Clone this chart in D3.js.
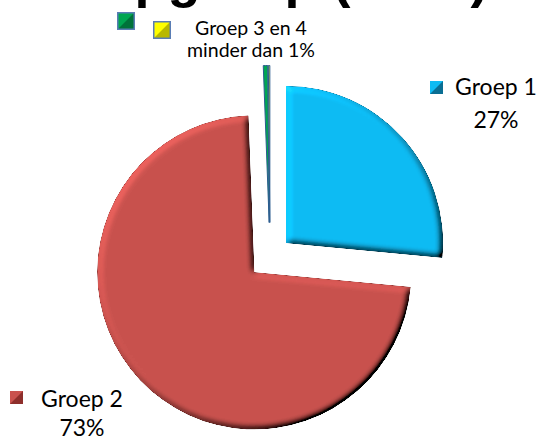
<!DOCTYPE html>
<html>
<head>
<meta charset="utf-8">
<script src="https://cdn.jsdelivr.net/npm/d3@7"></script>
<style>
  body { margin: 0; background: #fff; }
  svg { display: block; }
</style>
</head>
<body>
<svg id="chart" width="543" height="440"></svg>
<script>
// chart data
const groups = ["Groep 1", "Groep 2", "Groep 3", "Groep 4"];
const shares = [26.5, 72.9, 0.45, 0.15];
const pctLabels = ["27%", "73%"];
const smallLabel = ["Groep 3 en 4", "minder dan 1%"];
const titleText = "Loopgroep (2012)";

const colors = ["#0EBBF3", "#C9524E", "#00A651", "#FFFF00"];
const markerDark = ["#0B6E93", "#8E2F2C", "#00723A", "#B8B800"];

const svg = d3.select("#chart");
const cx = 270, cy = 257.5, radius = 157;
const explode = [21.6, 21.6, 35, 35];

// bevel filter
const defs = svg.append("defs");
const f = defs.append("filter").attr("id", "bevel")
    .attr("x", "-5%").attr("y", "-5%").attr("width", "110%").attr("height", "110%");
f.append("feGaussianBlur").attr("in", "SourceAlpha").attr("stdDeviation", 3).attr("result", "blur");
f.append("feDiffuseLighting").attr("in", "blur").attr("surfaceScale", 5)
    .attr("diffuseConstant", 0.707).attr("lighting-color", "#fff").attr("result", "light")
  .append("feDistantLight").attr("azimuth", 225).attr("elevation", 45);
f.append("feComposite").attr("in", "light").attr("in2", "SourceAlpha").attr("operator", "in").attr("result", "lit");
f.append("feComposite").attr("in", "SourceGraphic").attr("in2", "lit")
    .attr("operator", "arithmetic").attr("k1", 2).attr("k2", 0).attr("k3", 0).attr("k4", 0);

// title (cut off at top like the original)
svg.append("text")
    .attr("x", 262).attr("y", -3)
    .attr("text-anchor", "middle")
    .style("font-family", "'Liberation Sans', Arial, sans-serif")
    .style("font-weight", "bold")
    .style("font-size", "54px")
    .style("fill", "#000")
    .text(titleText);

const pie = d3.pie().sort(null).value(d => d)(shares);
const arc = d3.arc().innerRadius(0).outerRadius(radius);

const g = svg.append("g").attr("transform", `translate(${cx},${cy})`);

pie.forEach((d, i) => {
    const mid = (d.startAngle + d.endAngle) / 2;
    const ox = explode[i] * Math.sin(mid), oy = -explode[i] * Math.cos(mid);
    const p = g.append("path")
        .attr("transform", `translate(${ox},${oy})`)
        .attr("d", arc(d))
        .attr("fill", colors[i]);
    if (i < 2) {
        p.attr("filter", "url(#bevel)");
    } else {
        p.attr("stroke", "#2B5C8F").attr("stroke-width", 1);
    }
});

// legend-style marker squares
function marker(x, y, s, i, border) {
    const m = svg.append("g").attr("transform", `translate(${x},${y})`);
    m.append("rect").attr("width", s).attr("height", s).attr("fill", markerDark[i]);
    m.append("path").attr("d", `M0,0H${s}L0,${s}Z`).attr("fill", colors[i]);
    if (border) {
        m.append("rect").attr("x", 0.75).attr("y", 0.75)
            .attr("width", s - 1.5).attr("height", s - 1.5)
            .attr("fill", "none").attr("stroke", "#5A7DB5").attr("stroke-width", 1.5);
    }
}

const labelFont = "Lato, 'Open Sans', sans-serif";

function label(lines, x, y, gap, size) {
    const t = svg.append("text")
        .attr("text-anchor", "middle")
        .style("font-family", labelFont)
        .style("font-size", size + "px")
        .style("fill", "#000");
    lines.forEach((s, k) => {
        t.append("tspan").attr("x", x).attr("y", y + k * gap).text(s);
    });
}

// Groep 1
marker(430, 81, 13, 0, false);
label([groups[0], pctLabels[0]], 496, 95, 33, 23);

// Groep 2
marker(10, 391, 13, 1, false);
label([groups[1], pctLabels[1]], 82, 407, 29, 23);

// Groep 3 en 4
marker(117, 12, 18, 2, true);
marker(153, 21, 18, 3, true);
label(smallLabel, 251, 35, 22, 19.5);
</script>
</body>
</html>
